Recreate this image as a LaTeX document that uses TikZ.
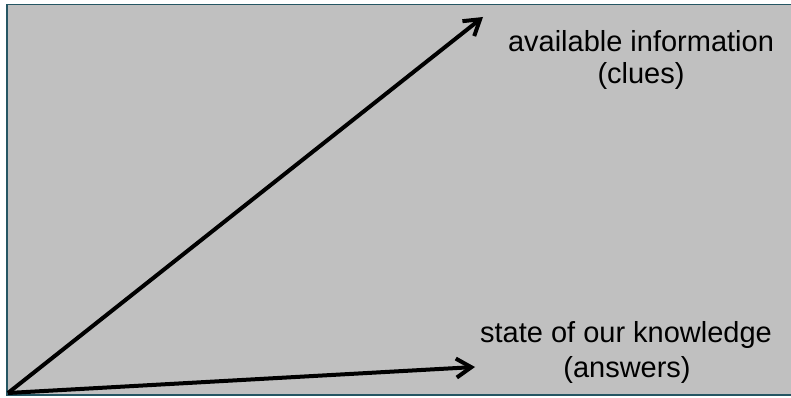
\documentclass[tikz,border=0pt]{standalone}
\usepackage{fontspec}
\setmainfont{Liberation Sans}
\usetikzlibrary{arrows.meta}
\definecolor{panelGray}{RGB}{192,192,192}
\definecolor{panelEdge}{RGB}{37,86,99}

\begin{document}
\begin{tikzpicture}
[x=1pt,y=1pt,
  labelDecorate/.style={font=\fontsize{29}{32}\selectfont,anchor=base,inner sep=0pt},%
  arrowDecorate/.style={-{Straight Barb[length=15pt,width=19pt]},line width=4pt}]
%% canvas
\useasboundingbox (0,0) rectangle (791,397);
\clip (0,0) rectangle (791,397);
\filldraw[fill=panelGray,draw=panelEdge,line width=1.5pt] (7,2) rectangle (800,392.5);
%% arrow ends
\coordinate (origin) at (8,4);
\coordinate (cluesTip) at (483,380);
\coordinate (answersTip) at (475,30);
%% labels
\foreach \nodename/\x/\y/\txt in {
  info/641/345/available information,
  clues/641/313/(clues),
  state/626/55/state of our knowledge,
  answers/627/20/(answers)}
{
  \node (\nodename) at (\x,\y) [labelDecorate] {\txt};
}
%% arrows
\path
\foreach \endnode in {cluesTip, answersTip}
{
  (origin) edge[arrowDecorate] (\endnode)
};
\end{tikzpicture}
\end{document}
